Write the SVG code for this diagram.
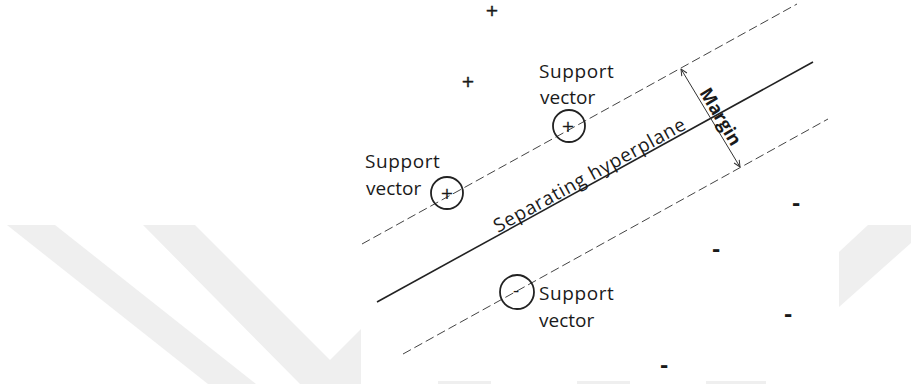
<svg xmlns="http://www.w3.org/2000/svg" width="911" height="384" viewBox="0 0 911 384">
  <defs>
    <marker id="arr" viewBox="0 0 8 8" refX="7.5" refY="4" markerWidth="8" markerHeight="8" markerUnits="userSpaceOnUse" orient="auto-start-reverse">
      <path d="M1,1 L7.5,4 L1,7" fill="none" stroke="#333" stroke-width="1"/>
    </marker>
  </defs>
  <style>
    .wm { fill: #efefef; }
    .lbl { font-family: "Open Sans", "Liberation Sans", sans-serif; font-size: 19px; fill: #1a1a1a; }
    .plus { font-family: "DejaVu Sans", "Liberation Sans", sans-serif; font-size: 16px; fill: #1a1a1a; stroke: #1a1a1a; stroke-width: 0.5; text-anchor: middle; }
    .minus { font-family: "Open Sans", "Liberation Sans", sans-serif; font-size: 24px; font-weight: bold; fill: #1a1a1a; text-anchor: middle; }
    .dash { stroke: #444; stroke-width: 1; stroke-dasharray: 9 4; fill: none; }
    .solid { stroke: #222; stroke-width: 1.6; fill: none; }
    .sv { fill: none; stroke: #222; stroke-width: 1.8; }
  </style>
  <rect width="911" height="384" fill="#ffffff"/>
  <g id="watermark">
    <polygon class="wm" points="7,225 55,225 256,384 208,384"/>
    <polygon class="wm" points="143,225 195,225 330,360 361,329 361,384 300,384"/>
    <polygon class="wm" points="868,225 911,225 911,243 839,307 839,252"/>
    <rect class="wm" x="438" y="381" width="53" height="3"/>
    <rect class="wm" x="577" y="381" width="53" height="3"/>
    <rect class="wm" x="706" y="381" width="60" height="3"/>
    <rect x="361" y="0" width="478" height="381" fill="#ffffff"/>
  </g>
  <g id="connectors">
    <line id="margin-upper" class="dash" x1="362" y1="244" x2="797" y2="4"/>
    <line id="hyperplane" class="solid" x1="377" y1="302" x2="813" y2="62"/>
    <line id="margin-lower" class="dash" x1="403" y1="354" x2="828" y2="119"/>
    <line id="margin-arrow" x1="681" y1="69" x2="740" y2="167" stroke="#333" stroke-width="1" marker-start="url(#arr)" marker-end="url(#arr)"/>
  </g>
  <g id="hyperplane-label">
    <text class="lbl" x="498" y="233" textLength="216" lengthAdjust="spacing" transform="rotate(-28.9 498 233)">Separating hyperplane</text>
  </g>
  <g id="margin-label">
    <text transform="translate(720 117) rotate(59)" x="0" y="5.5" font-family="'Open Sans', 'Liberation Sans', sans-serif" font-size="18" font-weight="bold" fill="#1a1a1a" text-anchor="middle">Margin</text>
  </g>
  <g id="positives">
    <text class="plus" x="492" y="15.5">+</text>
    <text class="plus" x="468" y="87">+</text>
  </g>
  <g id="negatives">
    <text class="minus" x="796" y="211">-</text>
    <text class="minus" x="716" y="257">-</text>
    <text class="minus" x="788" y="322">-</text>
    <text class="minus" x="664" y="373">-</text>
  </g>
  <g id="sv-upper">
    <circle class="sv" cx="569" cy="126" r="16"/>
    <text class="plus" x="568" y="132" style="stroke-width:0.2">+</text>
    <text class="lbl" x="539" y="78" letter-spacing="0.6">Support</text>
    <text class="lbl" x="540" y="104">vector</text>
  </g>
  <g id="sv-left">
    <circle class="sv" cx="447" cy="193" r="16"/>
    <text class="plus" x="447" y="199" style="stroke-width:0.2">+</text>
    <text class="lbl" x="365" y="168" letter-spacing="0.6">Support</text>
    <text class="lbl" x="366" y="195">vector</text>
  </g>
  <g id="sv-lower">
    <circle class="sv" cx="517" cy="292" r="17"/>
    <text class="lbl" x="516" y="297" font-size="18" text-anchor="middle">-</text>
    <text class="lbl" x="539" y="300" letter-spacing="0.6">Support</text>
    <text class="lbl" x="539" y="327">vector</text>
  </g>
</svg>
